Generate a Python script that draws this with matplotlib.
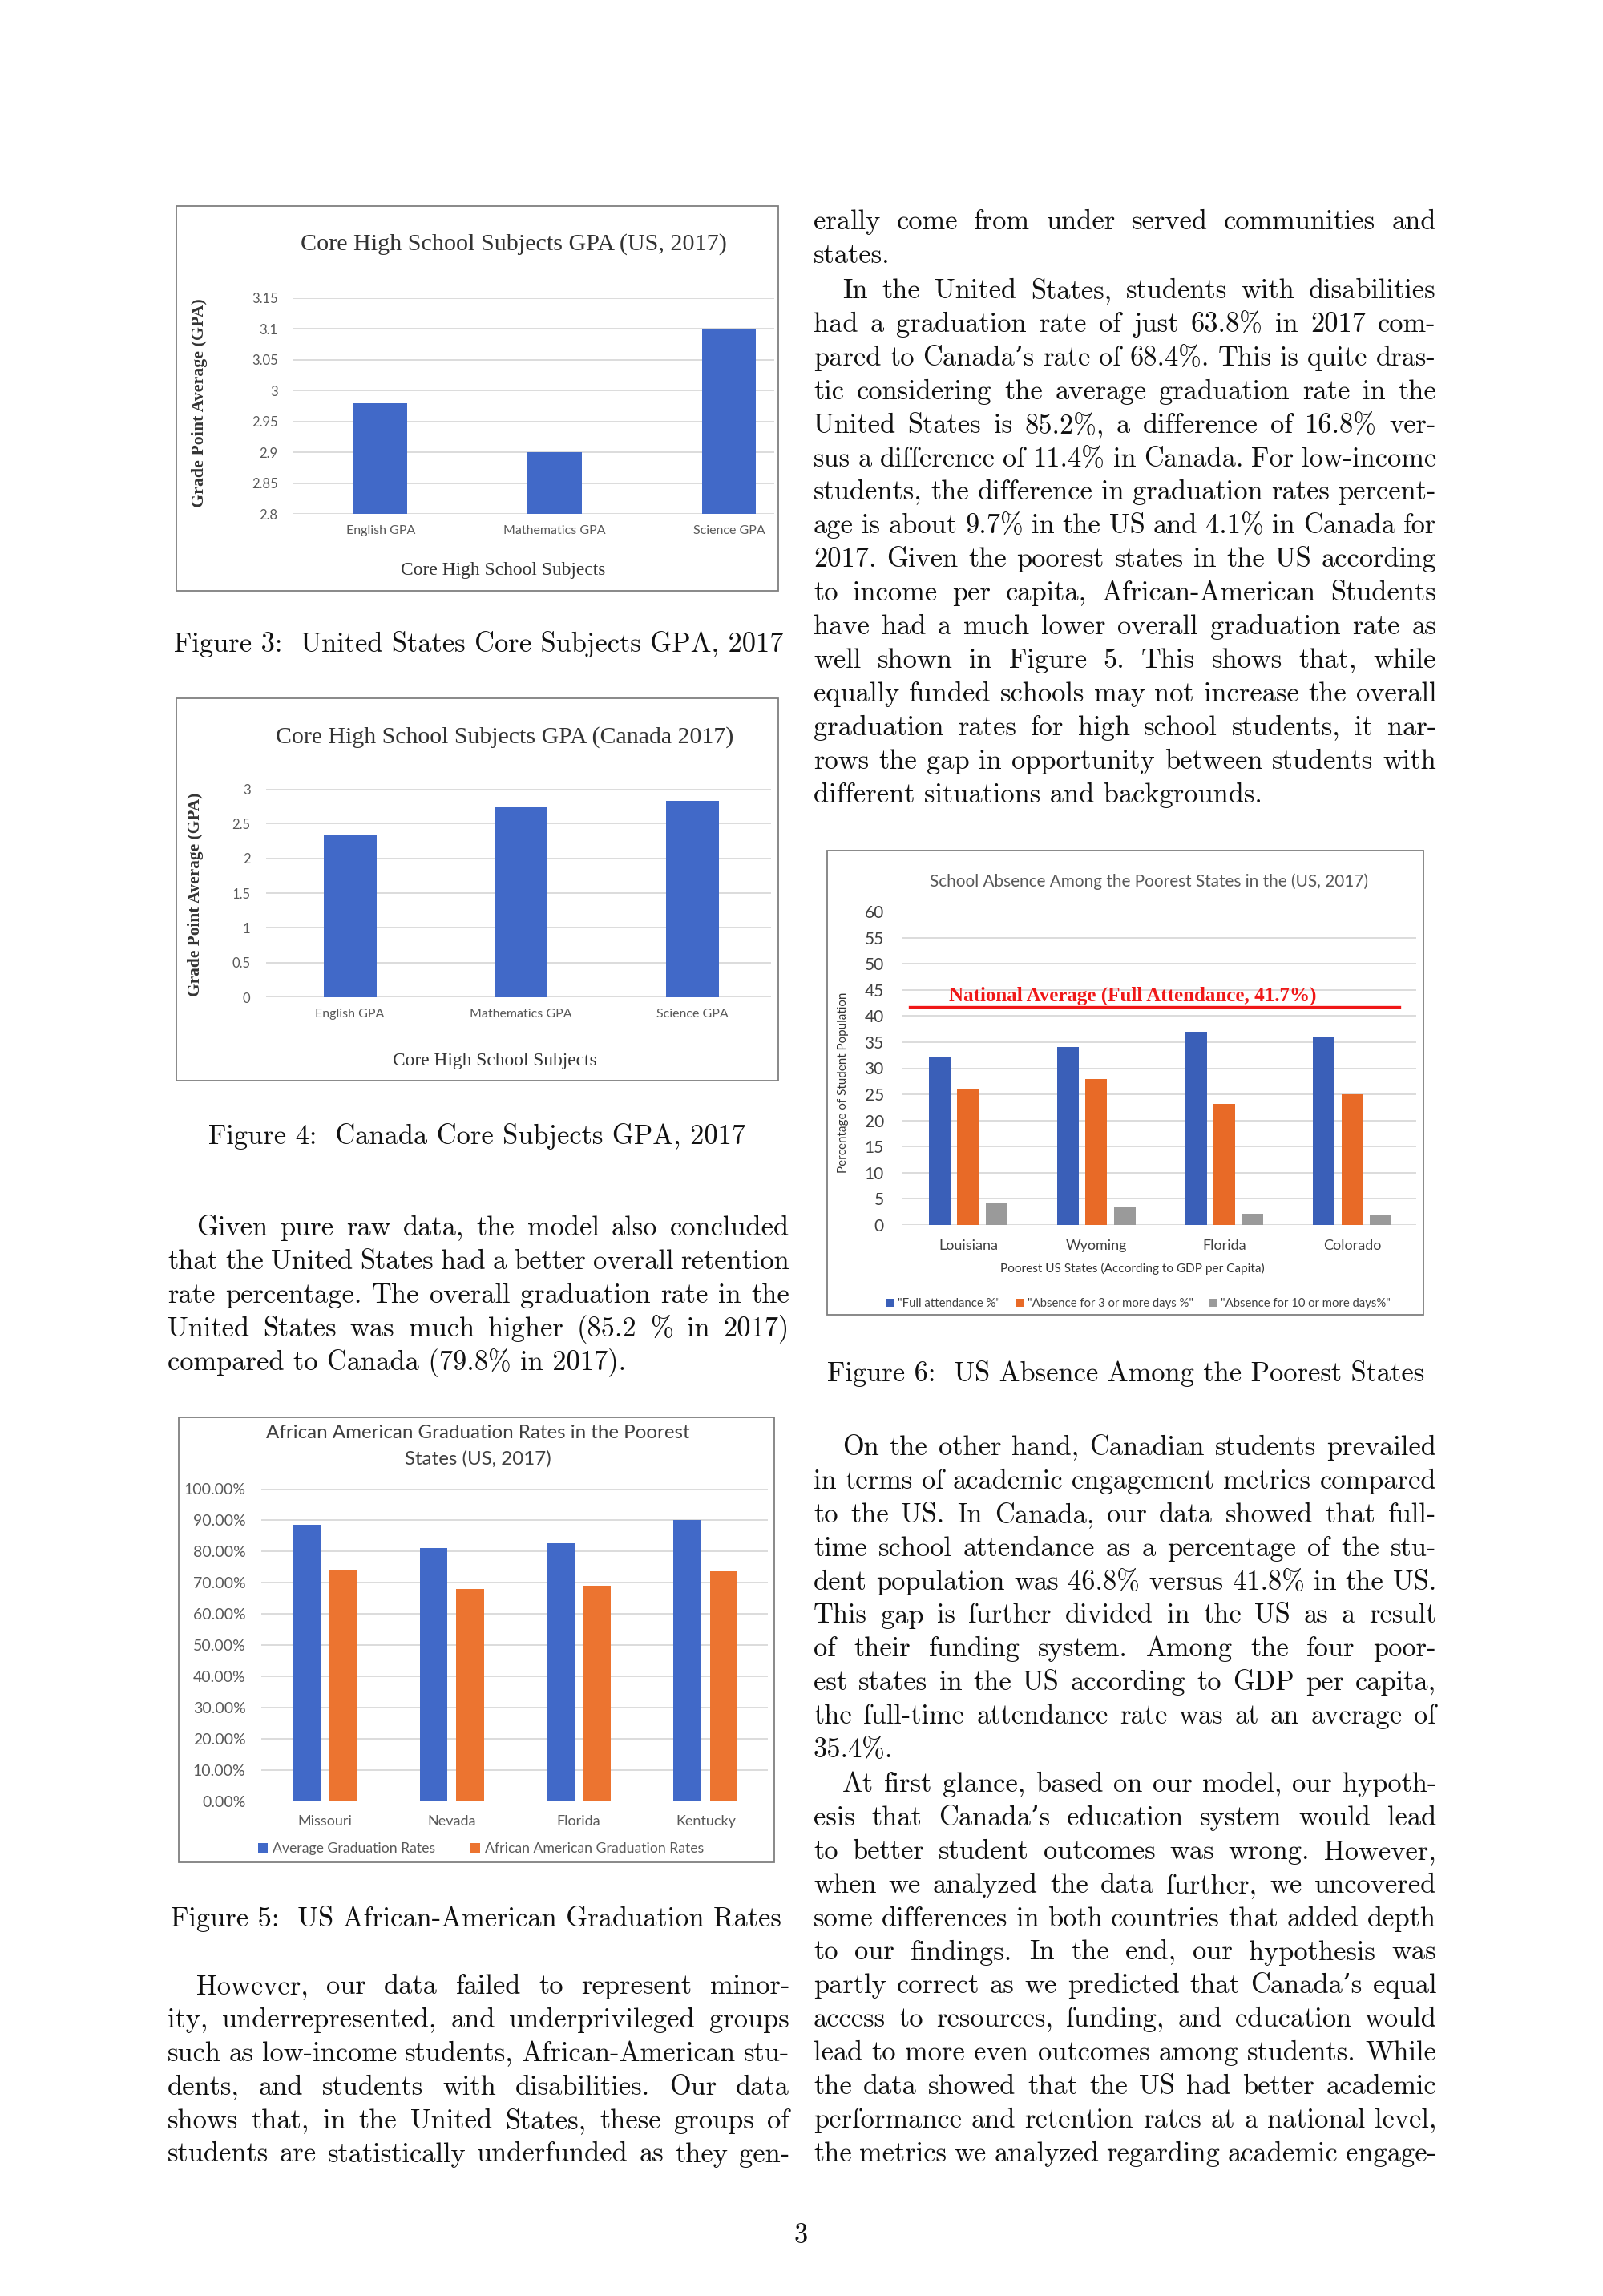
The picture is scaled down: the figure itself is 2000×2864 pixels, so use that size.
import numpy as np
import matplotlib
matplotlib.use("Agg")
import matplotlib.pyplot as plt
from matplotlib.patches import Rectangle

W, H = 2000, 2864

# ---- chart data ----
us_subjects = ["English GPA", "Mathematics GPA", "Science GPA"]
us_gpa = [2.98, 2.90, 3.10]
us_ticks = [2.8, 2.85, 2.9, 2.95, 3.0, 3.05, 3.1, 3.15]

ca_subjects = ["English GPA", "Mathematics GPA", "Science GPA"]
ca_gpa = [2.34, 2.74, 2.83]
ca_ticks = [0, 0.5, 1, 1.5, 2, 2.5, 3]

grad_states = ["Missouri", "Nevada", "Florida", "Kentucky"]
grad_average = [88.5, 81.0, 82.5, 90.0]
grad_african_american = [74.1, 67.9, 68.9, 73.7]
grad_ticks = [0, 10, 20, 30, 40, 50, 60, 70, 80, 90, 100]

absence_states = ["Louisiana", "Wyoming", "Florida", "Colorado"]
full_attendance = [32.0, 34.0, 37.0, 36.0]
absent_3_days = [26.1, 28.0, 23.1, 25.0]
absent_10_days = [4.2, 3.5, 2.1, 2.0]
absence_ticks = [0, 5, 10, 15, 20, 25, 30, 35, 40, 45, 50, 55, 60]
national_average = 41.7

# ---- page text ----
right_p1 = ["erally come from under served communities and",
            "states."]
right_p2 = ["In the United States, students with disabilities",
            "had a graduation rate of just 63.8% in 2017 com-",
            "pared to Canada\u2019s rate of 68.4%.  This is quite dras-",
            "tic considering the average graduation rate in the",
            "United States is 85.2%, a difference of 16.8% ver-",
            "sus a difference of 11.4% in Canada.  For low-income",
            "students, the difference in graduation rates percent-",
            "age is about 9.7% in the US and 4.1% in Canada for",
            "2017.  Given the poorest states in the US according",
            "to income per capita, African-American Students",
            "have had a much lower overall graduation rate as",
            "well shown in Figure 5.  This shows that, while",
            "equally funded schools may not increase the overall",
            "graduation rates for high school students, it nar-",
            "rows the gap in opportunity between students with",
            "different situations and backgrounds."]
right_p3 = ["On the other hand, Canadian students prevailed",
            "in terms of academic engagement metrics compared",
            "to the US. In Canada, our data showed that full-",
            "time school attendance as a percentage of the stu-",
            "dent population was 46.8% versus 41.8% in the US.",
            "This gap is further divided in the US as a result",
            "of their funding system.  Among the four poor-",
            "est states in the US according to GDP per capita,",
            "the full-time attendance rate was at an average of",
            "35.4%."]
right_p4 = ["At first glance, based on our model, our hypoth-",
            "esis that Canada\u2019s education system would lead",
            "to better student outcomes was wrong.  However,",
            "when we analyzed the data further, we uncovered",
            "some differences in both countries that added depth",
            "to our findings.  In the end, our hypothesis was",
            "partly correct as we predicted that Canada\u2019s equal",
            "access to resources, funding, and education would",
            "lead to more even outcomes among students.  While",
            "the data showed that the US had better academic",
            "performance and retention rates at a national level,",
            "the metrics we analyzed regarding academic engage-"]
left_p1 = ["Given pure raw data, the model also concluded",
           "that the United States had a better overall retention",
           "rate percentage.  The overall graduation rate in the",
           "United States was much higher (85.2 % in 2017)",
           "compared to Canada (79.8% in 2017)."]
left_p2 = ["However, our data failed to represent minor-",
           "ity, underrepresented, and underprivileged groups",
           "such as low-income students, African-American stu-",
           "dents, and students with disabilities.  Our data",
           "shows that, in the United States, these groups of",
           "students are statistically underfunded as they gen-"]

BLUE = "#4169c8"
ORANGE = "#ec7430"
SERIF = ["Liberation Serif", "DejaVu Serif"]
SANS = ["Lato", "DejaVu Sans"]
BODY = dict(family=["cmr10", "DejaVu Serif"], fontsize=24.8, color="#111111", va="baseline")

fig = plt.figure(figsize=(W / 100, H / 100), dpi=100)
# full-page overlay in pixel units (y down), drawn above the chart axes
page = fig.add_axes([0, 0, 1, 1])
page.set_xlim(0, W)
page.set_ylim(H, 0)
page.axis("off")
page.set_zorder(10)
renderer = fig.canvas.get_renderer()


def fit(t, length, vertical=False):
    bb = t.get_window_extent(renderer)
    cur = bb.height if vertical else bb.width
    t.set_fontsize(t.get_fontsize() * length / cur)
    return t


def frame(x0, y0, x1, y1):
    page.add_patch(Rectangle((x0, y0), x1 - x0, y1 - y0, fill=False,
                             ec="#7f7f7f", lw=1.3))


def chart_axes(x0, y0, x1, y1):
    ax = fig.add_axes([x0 / W, 1 - y1 / H, (x1 - x0) / W, (y1 - y0) / H])
    for sp in ax.spines.values():
        sp.set_visible(False)
    ax.yaxis.grid(True, color="#d9d9d9", lw=1.3)
    ax.set_axisbelow(True)
    ax.tick_params(length=0)
    return ax


def text_line(x0, x1, y, s, justify=True):
    if not justify:
        page.text(x0, y, s, **BODY)
        return
    words = s.split()
    ts = [page.text(0, y, w, **BODY) for w in words]
    ws = [t.get_window_extent(renderer).width for t in ts]
    gap = (x1 - x0 - sum(ws)) / (len(words) - 1)
    x = x0
    for t, w in zip(ts, ws):
        t.set_x(x)
        x += w + gap


def paragraph(x0, x1, y, lines, indent=True, last_full=False, step=41.9):
    for i, s in enumerate(lines):
        start = x0 + 36 if (i == 0 and indent) else x0
        last = (i == len(lines) - 1) and not last_full
        text_line(start, x1, y + i * step, s, justify=not last)


# ---------- Figure 3 ----------
frame(220, 257, 971, 737)
ax = chart_axes(366, 372, 966, 641)
x = np.arange(len(us_subjects))
ax.bar(x, us_gpa, width=0.31, color=BLUE, zorder=3)
ax.set_xlim(-0.5, 2.26)
ax.set_ylim(us_ticks[0], us_ticks[-1])
ax.set_yticks(us_ticks)
ax.set_yticklabels([f"{v:g}" for v in us_ticks], family=SANS, fontsize=12, color="#595959")
ax.set_xticks(x)
ax.set_xticklabels(us_subjects, family=SANS, fontsize=11.5, color="#595959")
ax.tick_params(axis="y", pad=14)
ax.tick_params(axis="x", pad=10)
fit(page.text(641, 305, "Core High School Subjects GPA (US, 2017)", family=SERIF,
              fontsize=20, color="#333333", ha="center", va="center"), 531)
fit(page.text(249, 503, "Grade Point Average (GPA)", family=SERIF, fontsize=15,
              weight="bold", rotation=90, color="#333333", ha="center", va="center"), 260, True)
fit(page.text(628, 712, "Core High School Subjects", family=SERIF, fontsize=16,
              color="#333333", ha="center", va="center"), 256)
page.text(597, 803, "Figure 3:  United States Core Subjects GPA, 2017",
          **dict(BODY, va="center", ha="center"))

# ---------- Figure 4 ----------
frame(220, 871, 971, 1348)
ax = chart_axes(332, 984, 962, 1244)
x = np.arange(len(ca_subjects))
ax.bar(x, ca_gpa, width=0.31, color=BLUE, zorder=3)
ax.set_xlim(-0.49, 2.46)
ax.set_ylim(ca_ticks[0], ca_ticks[-1])
ax.set_yticks(ca_ticks)
ax.set_yticklabels([f"{v:g}" for v in ca_ticks], family=SANS, fontsize=12, color="#595959")
ax.set_xticks(x)
ax.set_xticklabels(ca_subjects, family=SANS, fontsize=11.5, color="#595959")
ax.tick_params(axis="y", pad=14)
ax.tick_params(axis="x", pad=10)
fit(page.text(630, 920, "Core High School Subjects GPA (Canada 2017)", family=SERIF,
              fontsize=20, color="#333333", ha="center", va="center"), 572)
fit(page.text(244, 1116, "Grade Point Average (GPA)", family=SERIF, fontsize=15,
              weight="bold", rotation=90, color="#333333", ha="center", va="center"), 255, True)
fit(page.text(617, 1323, "Core High School Subjects", family=SERIF, fontsize=16,
              color="#333333", ha="center", va="center"), 254)
page.text(595, 1418, "Figure 4:  Canada Core Subjects GPA, 2017",
          **dict(BODY, va="center", ha="center"))

# ---------- Figure 5 ----------
frame(223, 1768, 966, 2323)
ax = chart_axes(326, 1857, 958, 2247)
x = np.arange(len(grad_states))
ax.bar(x - 0.143, grad_average, width=0.22, color=BLUE, zorder=3,
       label="Average Graduation Rates")
ax.bar(x + 0.143, grad_african_american, width=0.22, color=ORANGE, zorder=3,
       label="African American Graduation Rates")
ax.set_xlim(-0.5, 3.49)
ax.set_ylim(0, 100)
ax.set_yticks(grad_ticks)
ax.set_yticklabels([f"{v:.2f}%" for v in grad_ticks], family=SANS, fontsize=14, color="#595959")
ax.set_xticks(x)
ax.set_xticklabels(grad_states, family=SANS, fontsize=13, color="#595959")
ax.tick_params(axis="y", pad=14)
ax.tick_params(axis="x", pad=12)
ax.legend(loc="center", bbox_to_anchor=(600 / W, 1 - 2306 / H), bbox_transform=fig.transFigure,
          ncol=2, frameon=False, handlelength=0.7, handleheight=0.7, handletextpad=0.3,
          columnspacing=2.5, prop=dict(family=SANS, size=12.7), labelcolor="#595959")
t = fit(page.text(596, 1787, "African American Graduation Rates in the Poorest", family=SANS,
                  fontsize=16, color="#404040", ha="center", va="center"), 530)
page.text(596, 1820, "States (US, 2017)", family=SANS, fontsize=t.get_fontsize(),
          color="#404040", ha="center", va="center")
page.text(594, 2394, "Figure 5:  US African-American Graduation Rates",
          **dict(BODY, va="center", ha="center"))

# ---------- Figure 6 ----------
frame(1032, 1061, 1776, 1640)
ax = chart_axes(1125, 1137, 1767, 1528)
x = np.arange(len(absence_states))
ax.bar(x - 0.222, full_attendance, width=0.17, color="#3a5fb8", zorder=3,
       label="\"Full attendance %\"")
ax.bar(x, absent_3_days, width=0.17, color="#e86a27", zorder=3,
       label="\"Absence for 3 or more days %\"")
ax.bar(x + 0.222, absent_10_days, width=0.17, color="#9a9a9a", zorder=3,
       label="\"Absence for 10 or more days%\"")
ax.axhline(national_average, xmin=0.016, xmax=0.967, color="#f01818", lw=2.4, zorder=4)
ax.set_xlim(-0.52, 3.5)
ax.set_ylim(0, 60)
ax.set_yticks(absence_ticks)
ax.set_yticklabels([str(v) for v in absence_ticks], family=SANS, fontsize=15, color="#404040")
ax.set_xticks(x)
ax.set_xticklabels(absence_states, family=SANS, fontsize=13, color="#404040")
ax.tick_params(axis="y", pad=16)
ax.tick_params(axis="x", pad=13)
ax.legend(loc="center", bbox_to_anchor=(1420 / W, 1 - 1626 / H), bbox_transform=fig.transFigure,
          ncol=3, frameon=False, handlelength=0.7, handleheight=0.7, handletextpad=0.3,
          columnspacing=1.3, prop=dict(family=SANS, size=10.7), labelcolor="#404040")
fit(page.text(1434, 1100, "School Absence Among the Poorest States in the (US, 2017)",
              family=SANS, fontsize=15, color="#595959", ha="center", va="center"), 549)
fit(page.text(1413, 1242, "National Average (Full Attendance, 41.7%)", family=SERIF,
              fontsize=15, weight="bold", color="#f01818", ha="center", va="center"), 458)
fit(page.text(1413, 1582, "Poorest US States (According to GDP per Capita)", family=SANS,
              fontsize=10, color="#333333", ha="center", va="center"), 332)
fit(page.text(1052, 1350, "Percentage of Student Population", family=SANS, fontsize=10,
              rotation=90, color="#333333", ha="center", va="center"), 225, True)
page.text(1405, 1713, "Figure 6:  US Absence Among the Poorest States",
          **dict(BODY, va="center", ha="center"))

# ---------- body text ----------
paragraph(209, 985, 1541, left_p1)
paragraph(209, 985, 2487, left_p2, last_full=True)
paragraph(1015, 1792, 286, right_p1, indent=False)
paragraph(1015, 1792, 372, right_p2)
paragraph(1015, 1792, 1815, right_p3)
paragraph(1015, 1792, 2235, right_p4, last_full=True)

page.text(999, 2789, "3", **dict(BODY, va="center", ha="center"))

fig.savefig("out.png", dpi=100, facecolor="white")
